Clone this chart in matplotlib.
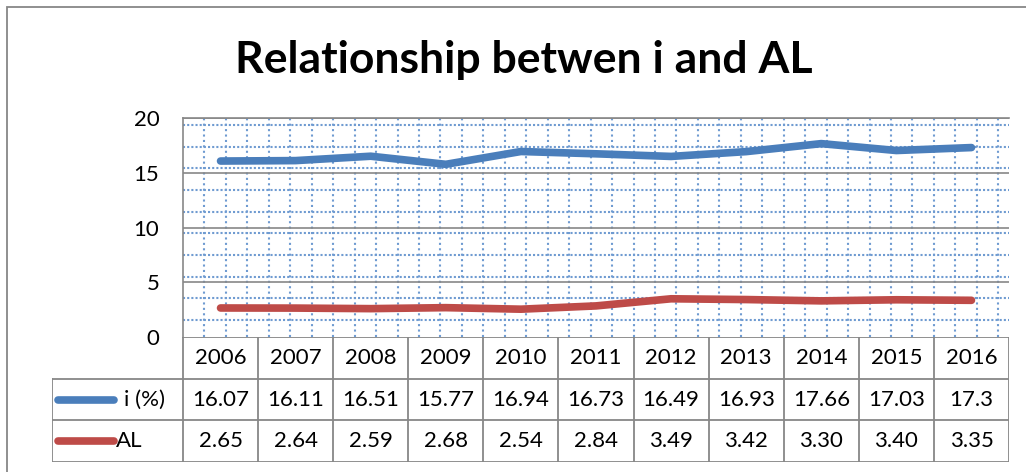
import numpy as np
import matplotlib
matplotlib.use("Agg")
import matplotlib.pyplot as plt
from matplotlib.patches import Rectangle

# data
years = ['2006', '2007', '2008', '2009', '2010', '2011', '2012', '2013', '2014', '2015', '2016']
i_pct = [16.07, 16.11, 16.51, 15.77, 16.94, 16.73, 16.49, 16.93, 17.66, 17.03, 17.3]
al = [2.65, 2.64, 2.59, 2.68, 2.54, 2.84, 3.49, 3.42, 3.30, 3.40, 3.35]
series_names = ['i (%)', 'AL']
y_ticks = [0, 5, 10, 15, 20]

plt.rcParams['font.family'] = ['Lato', 'DejaVu Sans']

W, H = 1026, 472
fig = plt.figure(figsize=(W / 100, H / 100), dpi=100)

blue = '#4a7ebb'
red = '#be4b48'
grid_gray = '#878787'
dot_blue = '#6f9bd1'
fs = 16

def fx(px):
    return px / W

def fy(py):  # py measured from top
    return 1 - py / H

# outer chart frame (runs past the right and bottom of the picture)
fig.patches.append(Rectangle((fx(7), fy(480)), 1.2, fy(7) - fy(480), transform=fig.transFigure,
                             fill=False, edgecolor=grid_gray, lw=1.3))

fig.text(fx(524), fy(60), 'Relationship betwen i and AL', ha='center', va='center',
         fontsize=32, fontweight='bold')

# plot area
left, right, top, bottom = 183, 1009, 118, 337
ax = fig.add_axes([fx(left), fy(bottom), fx(right) - fx(left), fy(top) - fy(bottom)])
x = np.arange(len(years))
ax.set_xlim(-0.5, len(years) - 0.5)
ax.set_ylim(0, 20)

# dotted minor grid
for yv in np.arange(1.55, 20, 1.98):
    ax.axhline(yv, color=dot_blue, lw=1.5, ls=(0, (1, 1)), zorder=1)
for xv in np.arange(-0.5 + 2 / 7, len(years) - 0.5, 2 / 7):
    ax.axvline(xv, color=dot_blue, lw=1.5, ls=(0, (1, 1.6)), zorder=1)
for yv in y_ticks[1:]:
    ax.axhline(yv, color=grid_gray, lw=1.2, zorder=2)

ax.plot(x, i_pct, color=blue, lw=5.5, solid_capstyle='round', solid_joinstyle='round', zorder=3)
ax.plot(x, al, color=red, lw=5.5, solid_capstyle='round', solid_joinstyle='round', zorder=3)

ax.set_yticks(y_ticks)
ax.set_yticklabels([str(t) for t in y_ticks], fontsize=fs)
ax.tick_params(axis='y', length=0, pad=17)
ax.set_xticks([])
for s in ['right', 'bottom']:
    ax.spines[s].set_visible(False)
for s in ['left', 'top']:
    ax.spines[s].set_color(grid_gray)
    ax.spines[s].set_linewidth(1.2)

# data table under the plot
t_left, t_bottom = 52, 462
tax = fig.add_axes([fx(t_left), fy(t_bottom), fx(right) - fx(t_left), fy(bottom) - fy(t_bottom)])
unit = (right - left) / len(years)
x0 = -0.5 - (left - t_left) / unit
tax.set_xlim(x0, len(years) - 0.5)
tax.set_ylim(3, 0)
tax.axis('off')

lc = dict(color=grid_gray, lw=1.3)
tax.plot([-0.5, len(years) - 0.5], [0, 0], **lc)
for r in [1, 2, 3]:
    tax.plot([x0, len(years) - 0.5], [r, r], **lc)
for k in range(len(years) + 1):
    tax.plot([k - 0.5, k - 0.5], [0, 3], **lc)
tax.plot([x0, x0], [1, 3], **lc)

for k, yr in enumerate(years):
    tax.text(k, 0.5, yr, ha='center', va='center', fontsize=fs)
    tax.text(k, 1.5, str(i_pct[k]), ha='center', va='center', fontsize=fs)
    tax.text(k, 2.5, f'{al[k]:.2f}', ha='center', va='center', fontsize=fs)

# legend keys inside the table
ka = -0.5 - (left - 58) / unit
kb = -0.5 - (left - 114) / unit
tax.plot([ka, kb], [1.5, 1.5], color=blue, lw=5.5, solid_capstyle='round')
tax.plot([ka, kb], [2.5, 2.5], color=red, lw=5.5, solid_capstyle='round')
tax.text(-0.5 - (left - 124) / unit, 1.5, series_names[0], ha='left', va='center', fontsize=fs)
tax.text(kb + 0.02, 2.5, series_names[1], ha='left', va='center', fontsize=fs)

fig.savefig('out.png', dpi=100)
